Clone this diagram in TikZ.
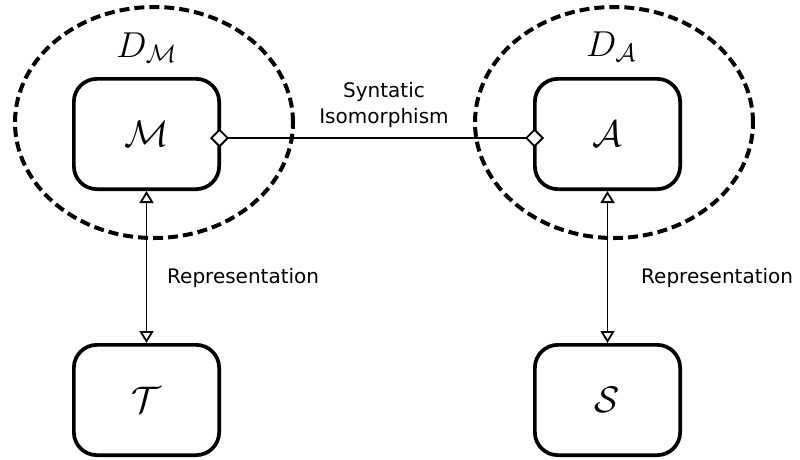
\RequirePackage{fix-cm}
\documentclass[tikz,border=0pt]{standalone}
\usepackage{fontspec}
\newfontfamily\labelfont{DejaVu Sans}
\usetikzlibrary{arrows.meta,shapes.geometric}

\tikzset{
  entity/.style={draw, line width=3.7pt, rounded corners=23pt,
    minimum width=145.3pt, minimum height=110.3pt, inner sep=0pt,
    font=\fontsize{37}{40}\selectfont},
  region/.style={draw, ellipse, line width=4pt,
    dash pattern=on 10pt off 5pt, inner sep=0pt},
  domlabel/.style={anchor=base, inner sep=0pt,
    font=\fontsize{36}{40}\selectfont},
  rel/.style={line width=1.8pt},
  represent/.style={rel,
    {Triangle[length=12pt,width=14pt,fill=white]}-{Triangle[length=12pt,width=14pt,fill=white]}},
  iso/.style={rel,
    {Diamond[length=19pt,width=19pt,fill=white]}-{Diamond[length=19pt,width=19pt,fill=white]}},
  txt/.style={inner sep=0pt, font=\labelfont\fontsize{20}{26}\selectfont}
}

\begin{document}
\begin{tikzpicture}[x=1pt,y=-1pt]
  \useasboundingbox (0,0) rectangle (800,459);

  % domains
  \node[region, minimum width=278pt, minimum height=231pt] (domM) at (154,122.5) {};
  \node[region, minimum width=278pt, minimum height=231pt] (domA) at (614,122.5) {};
  \node[domlabel] (lblM) at (146.5,57) {$D_{\mathcal{M}}$};
  \node[domlabel] (lblA) at (611,56) {$D_{\mathcal{A}}$};

  % entities
  \node[entity] (M) at (146.5,134) {$\mathcal{M}$};
  \node[entity] (A) at (607.5,134) {$\mathcal{A}$};
  \node[entity] (T) at (146.5,400) {$\mathcal{T}$};
  \node[entity] (S) at (607.5,400) {$\mathcal{S}$};

  % relations
  \draw[iso] ([shift={(-11pt,-4pt)}]M.east) -- ([shift={(11pt,-4pt)}]A.west);
  \node[txt, align=center, anchor=south] (isoLbl) at (384,128) {Syntatic\\Isomorphism};

  \draw[represent] (M.south) -- (T.north);
  \draw[represent] (A.south) -- (S.north);
  \node[txt, anchor=west] (repL) at (167,278) {Representation};
  \node[txt, anchor=west] (repR) at (641,278) {Representation};
\end{tikzpicture}
\end{document}
